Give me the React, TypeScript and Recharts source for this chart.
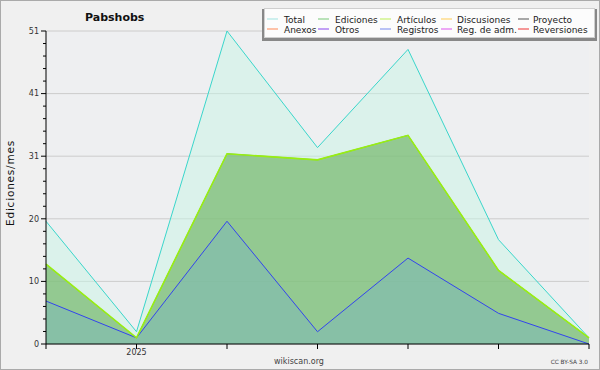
import React from "react";
import { ComposedChart, Area, Line, XAxis, YAxis, CartesianGrid } from "recharts";

const months = ["2024-12", "2025-01", "2025-02", "2025-03", "2025-04", "2025-05", "2025-06"];
const xTickLabels = ["", "2025", "", "", "", "", ""];
const total = [20, 2, 51, 32, 48, 17, 1];
const ediciones = [13, 1, 31, 30, 34, 12, 1];
const articulos = [13, 1, 31, 30, 34, 12, 1];
const registros = [7, 1, 20, 2, 14, 5, 0];
const yMajorTicks = [0, 10.2, 20.4, 30.6, 40.8, 51];
const yAllTicks = [
  0, 2.04, 4.08, 6.12, 8.16, 10.2, 12.24, 14.28, 16.32, 18.36, 20.4, 22.44, 24.48, 26.52,
  28.56, 30.6, 32.64, 34.68, 36.72, 38.76, 40.8, 42.84, 44.88, 46.92, 48.96, 51,
];

const legendRow1 = [
  { name: "Total", color: "#9fe3e0" },
  { name: "Ediciones", color: "#77c877" },
  { name: "Artículos", color: "#bbee55" },
  { name: "Discusiones", color: "#ffcc55" },
  { name: "Proyecto", color: "#555555" },
];
const legendRow2 = [
  { name: "Anexos", color: "#ff8855" },
  { name: "Otros", color: "#8844ee" },
  { name: "Registros", color: "#7788ee" },
  { name: "Reg. de adm.", color: "#dd55ee" },
  { name: "Reversiones", color: "#ee3333" },
];
const legendSwatchX = [267, 318, 380, 441, 518];
const legendTextX = [284, 335, 397, 457, 533];

const data = months.map((m, i) => ({
  i,
  month: m,
  total: total[i],
  ediciones: ediciones[i],
  articulos: articulos[i],
  registros: registros[i],
}));

const font = "DejaVu Sans";

const isMajor = (v: number) => yMajorTicks.some((t) => Math.abs(t - v) < 1e-6);

const YTick = (props: any) => {
  const { x, y, payload } = props;
  const v = payload?.value ?? 0;
  const major = isMajor(v);
  return (
    <g>
      <line x1={x - (major ? 5 : 3)} x2={x} y1={y} y2={y} stroke="#000" strokeWidth={1} />
      {major ? (
        <text x={x - 7} y={y} dy="0.35em" textAnchor="end" fontFamily={font} fontSize={8} fill="#333">
          {String(Math.round(v))}
        </text>
      ) : null}
    </g>
  );
};

const gridGen = (args: any) => {
  const s = args?.yAxis?.scale;
  return yMajorTicks.map((v) => (typeof s === "function" ? s(v) : 31 + 313 * (1 - v / 51)));
};

export default function App() {
  return (
    <div style={{ position: "absolute", left: 0, top: 0, width: 600, height: 370, background: "#f0f0f0", overflow: "hidden" }}>
      <ComposedChart width={600} height={370} data={data} margin={{ top: 31, right: 11, bottom: 6, left: 0 }}>
        <CartesianGrid vertical={false} stroke="#cccccc" fill="#eeeff1" horizontalCoordinatesGenerator={gridGen} />
        <XAxis
          dataKey="i"
          type="number"
          domain={[0, 6]}
          ticks={[0, 1, 2, 3, 4, 5, 6]}
          tickFormatter={(v: number) => xTickLabels[v] ?? ""}
          tickSize={5}
          tickMargin={0}
          height={20}
          axisLine={{ stroke: "#000" }}
          tickLine={{ stroke: "#000" }}
          tick={{ fill: "#333", fontSize: 8, fontFamily: font }}
        />
        <YAxis
          width={46}
          domain={[0, 51]}
          ticks={yAllTicks}
          interval={0}
          tickSize={0}
          tickMargin={0}
          axisLine={{ stroke: "#000" }}
          tickLine={false}
          tick={<YTick />}
        />
        <Area
          type="linear"
          dataKey="total"
          stroke="#3ad6cb"
          strokeWidth={1}
          fill="#c8f5e6"
          fillOpacity={0.5}
          dot={false}
          activeDot={false}
          isAnimationActive={false}
        />
        <Area
          type="linear"
          dataKey="ediciones"
          stroke="#66bb66"
          strokeWidth={1}
          fill="#70b564"
          fillOpacity={0.67}
          dot={false}
          activeDot={false}
          isAnimationActive={false}
        />
        <Area
          type="linear"
          dataKey="registros"
          stroke="#3344ee"
          strokeWidth={1}
          fill="#7bb7bb"
          fillOpacity={0.5}
          dot={false}
          activeDot={false}
          isAnimationActive={false}
        />
        <Line
          type="linear"
          dataKey="articulos"
          stroke="#99ee11"
          strokeWidth={1.6}
          dot={false}
          activeDot={false}
          isAnimationActive={false}
        />
      </ComposedChart>

      <div style={{ position: "absolute", left: 262, top: 9, width: 335, height: 32, background: "#888" }} />
      <div style={{ position: "absolute", left: 264, top: 8, width: 331, height: 30, background: "#fcfcfc", border: "1px solid #cfcfcf", boxSizing: "border-box" }} />

      <svg width={600} height={370} style={{ position: "absolute", left: 0, top: 0, pointerEvents: "none" }}>
        <text x={85} y={20.5} fontFamily={font} fontWeight="bold" fontSize={11} fill="#111">Pabshobs</text>
        <text
          x={14}
          y={183}
          transform="rotate(-90 14 183)"
          textAnchor="middle"
          fontFamily={font}
          fontSize={10.5}
          letterSpacing={0.8}
          fill="#111"
        >
          Ediciones/mes
        </text>
        <text x={299} y={364} textAnchor="middle" fontFamily={font} fontSize={8} fill="#444">wikiscan.org</text>
        <text x={588} y={364} textAnchor="end" fontFamily={font} fontSize={5.8} fill="#444">CC BY-SA 3.0</text>
        {legendRow1.map((it, k) => (
          <g key={"r1" + k}>
            <line x1={legendSwatchX[k]} x2={legendSwatchX[k] + 11} y1={19} y2={19} stroke={it.color} strokeWidth={1} />
            <text x={legendTextX[k]} y={22.5} fontFamily={font} fontSize={9} fill="#222">{it.name}</text>
          </g>
        ))}
        {legendRow2.map((it, k) => (
          <g key={"r2" + k}>
            <line x1={legendSwatchX[k]} x2={legendSwatchX[k] + 11} y1={29} y2={29} stroke={it.color} strokeWidth={1} />
            <text x={legendTextX[k]} y={32.5} fontFamily={font} fontSize={9} fill="#222">{it.name}</text>
          </g>
        ))}
        <rect x={0.5} y={0.5} width={599} height={369} fill="none" stroke="#aaaaaa" />
      </svg>
    </div>
  );
}
